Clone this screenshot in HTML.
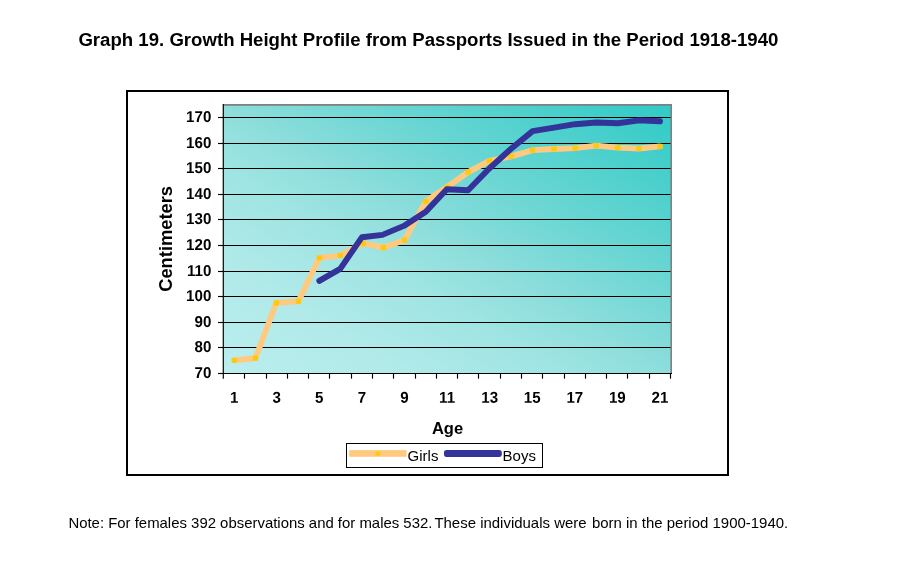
<!DOCTYPE html>
<html><head><meta charset="utf-8"><title>Graph 19</title>
<style>
html,body{margin:0;padding:0;background:#fff;}
body{width:899px;height:572px;overflow:hidden;position:relative;font-family:"Liberation Sans",Arial,sans-serif;}
svg{position:absolute;left:0;top:0;display:block}
svg text{font-family:"Liberation Sans",Arial,sans-serif;fill:#000}
</style></head><body>
<svg width="899" height="572" viewBox="0 0 899 572">
<defs>
<linearGradient id="bg" x1="0" y1="1" x2="1" y2="0">
<stop offset="0" stop-color="#bceeee"/><stop offset="0.087" stop-color="#b6ecec"/><stop offset="0.2" stop-color="#b1eae9"/><stop offset="0.368" stop-color="#a0e5e3"/><stop offset="0.4645" stop-color="#92e0de"/><stop offset="0.506" stop-color="#8bdddb"/><stop offset="0.6975" stop-color="#65d5d2"/><stop offset="0.9225" stop-color="#3ccdc9"/><stop offset="1" stop-color="#30cbc7"/>
</linearGradient>
</defs>
<rect x="0" y="0" width="899" height="572" fill="#fff"/>
<text x="78.4" y="46.2" font-size="18.67" font-weight="bold" textLength="700" lengthAdjust="spacingAndGlyphs">Graph 19. Growth Height Profile from Passports Issued in the Period 1918-1940</text>
<rect x="127" y="91" width="601" height="384" fill="#fff" stroke="#000" stroke-width="2"/>
<rect x="222.70000000000002" y="104.0" width="449.3" height="269.5" fill="url(#bg)"/>
<g stroke="#000" stroke-width="1"><line x1="223.30" y1="117.5" x2="671.20" y2="117.5"/><line x1="223.30" y1="143.5" x2="671.20" y2="143.5"/><line x1="223.30" y1="168.5" x2="671.20" y2="168.5"/><line x1="223.30" y1="194.5" x2="671.20" y2="194.5"/><line x1="223.30" y1="219.5" x2="671.20" y2="219.5"/><line x1="223.30" y1="245.5" x2="671.20" y2="245.5"/><line x1="223.30" y1="271.5" x2="671.20" y2="271.5"/><line x1="223.30" y1="296.5" x2="671.20" y2="296.5"/><line x1="223.30" y1="322.5" x2="671.20" y2="322.5"/><line x1="223.30" y1="347.5" x2="671.20" y2="347.5"/></g>
<rect x="223.3" y="104.0" width="448.7" height="1.8" fill="#808080"/>
<rect x="670.4" y="104.0" width="1.6" height="269.5" fill="#808080"/>
<g stroke="#000" stroke-width="1.15">
<line x1="218" y1="117.5" x2="223.30" y2="117.5"/><line x1="218" y1="143.5" x2="223.30" y2="143.5"/><line x1="218" y1="168.5" x2="223.30" y2="168.5"/><line x1="218" y1="194.5" x2="223.30" y2="194.5"/><line x1="218" y1="219.5" x2="223.30" y2="219.5"/><line x1="218" y1="245.5" x2="223.30" y2="245.5"/><line x1="218" y1="271.5" x2="223.30" y2="271.5"/><line x1="218" y1="296.5" x2="223.30" y2="296.5"/><line x1="218" y1="322.5" x2="223.30" y2="322.5"/><line x1="218" y1="347.5" x2="223.30" y2="347.5"/><line x1="218" y1="373.5" x2="223.30" y2="373.5"/>
<line x1="223.3" y1="104.0" x2="223.3" y2="374.0"/>
<line x1="222.70000000000002" y1="373.5" x2="672.0" y2="373.5"/>
<line x1="223.30" y1="373.50" x2="223.30" y2="378.7"/><line x1="244.50" y1="373.50" x2="244.50" y2="378.7"/><line x1="266.50" y1="373.50" x2="266.50" y2="378.7"/><line x1="287.50" y1="373.50" x2="287.50" y2="378.7"/><line x1="308.50" y1="373.50" x2="308.50" y2="378.7"/><line x1="329.50" y1="373.50" x2="329.50" y2="378.7"/><line x1="351.50" y1="373.50" x2="351.50" y2="378.7"/><line x1="372.50" y1="373.50" x2="372.50" y2="378.7"/><line x1="393.50" y1="373.50" x2="393.50" y2="378.7"/><line x1="415.50" y1="373.50" x2="415.50" y2="378.7"/><line x1="436.50" y1="373.50" x2="436.50" y2="378.7"/><line x1="457.50" y1="373.50" x2="457.50" y2="378.7"/><line x1="478.50" y1="373.50" x2="478.50" y2="378.7"/><line x1="500.50" y1="373.50" x2="500.50" y2="378.7"/><line x1="521.50" y1="373.50" x2="521.50" y2="378.7"/><line x1="542.50" y1="373.50" x2="542.50" y2="378.7"/><line x1="564.50" y1="373.50" x2="564.50" y2="378.7"/><line x1="585.50" y1="373.50" x2="585.50" y2="378.7"/><line x1="606.50" y1="373.50" x2="606.50" y2="378.7"/><line x1="627.50" y1="373.50" x2="627.50" y2="378.7"/><line x1="649.50" y1="373.50" x2="649.50" y2="378.7"/><line x1="670.50" y1="373.50" x2="670.50" y2="378.7"/>
</g>
<g font-size="15.5" font-weight="bold"><text transform="translate(211.3 121.95) rotate(0.03) scale(0.975 1.02)" text-anchor="end">170</text><text transform="translate(211.3 147.95) rotate(0.03) scale(0.975 1.02)" text-anchor="end">160</text><text transform="translate(211.3 172.95) rotate(0.03) scale(0.975 1.02)" text-anchor="end">150</text><text transform="translate(211.3 198.95) rotate(0.03) scale(0.975 1.02)" text-anchor="end">140</text><text transform="translate(211.3 223.95) rotate(0.03) scale(0.975 1.02)" text-anchor="end">130</text><text transform="translate(211.3 249.95) rotate(0.03) scale(0.975 1.02)" text-anchor="end">120</text><text transform="translate(211.3 275.95) rotate(0.03) scale(0.975 1.02)" text-anchor="end">110</text><text transform="translate(211.3 300.95) rotate(0.03) scale(0.975 1.02)" text-anchor="end">100</text><text transform="translate(211.3 326.95) rotate(0.03) scale(0.975 1.02)" text-anchor="end">90</text><text transform="translate(211.3 351.95) rotate(0.03) scale(0.975 1.02)" text-anchor="end">80</text><text transform="translate(211.3 377.95) rotate(0.03) scale(0.975 1.02)" text-anchor="end">70</text><text transform="translate(234.15 402.7) rotate(0.03) scale(0.975 1.02)" text-anchor="middle">1</text><text transform="translate(276.73 402.7) rotate(0.03) scale(0.975 1.02)" text-anchor="middle">3</text><text transform="translate(319.31 402.7) rotate(0.03) scale(0.975 1.02)" text-anchor="middle">5</text><text transform="translate(361.89 402.7) rotate(0.03) scale(0.975 1.02)" text-anchor="middle">7</text><text transform="translate(404.47 402.7) rotate(0.03) scale(0.975 1.02)" text-anchor="middle">9</text><text transform="translate(447.05 402.7) rotate(0.03) scale(0.975 1.02)" text-anchor="middle">11</text><text transform="translate(489.63 402.7) rotate(0.03) scale(0.975 1.02)" text-anchor="middle">13</text><text transform="translate(532.21 402.7) rotate(0.03) scale(0.975 1.02)" text-anchor="middle">15</text><text transform="translate(574.79 402.7) rotate(0.03) scale(0.975 1.02)" text-anchor="middle">17</text><text transform="translate(617.37 402.7) rotate(0.03) scale(0.975 1.02)" text-anchor="middle">19</text><text transform="translate(659.95 402.7) rotate(0.03) scale(0.975 1.02)" text-anchor="middle">21</text></g>
<text x="431.9" y="433.6" font-size="16.4" font-weight="bold" textLength="31.2" lengthAdjust="spacingAndGlyphs">Age</text>
<text transform="translate(171.6,238.9) rotate(-90)" font-size="17.6" font-weight="bold" text-anchor="middle" textLength="105.8" lengthAdjust="spacingAndGlyphs">Centimeters</text>
<polyline points="234.2,360.3 255.4,358.2 276.3,302.8 298.4,301.3 319.4,257.8 340.4,255.3 363.3,243.3 383.4,247.6 404.5,240.2 425.7,201.5 447.0,187.0 468.2,172.1 489.5,160.9 511.2,156.4 532.6,150.2 554.0,149.0 575.1,148.2 596.3,145.6 617.7,147.7 639.0,148.5 660.2,146.4" fill="none" stroke="#ffca80" stroke-width="5.8" stroke-linejoin="round" stroke-linecap="butt"/>
<g fill="#ffc810"><rect x="231.5" y="357.7" width="5.4" height="5.2" rx="0.8"/><rect x="252.7" y="355.6" width="5.4" height="5.2" rx="0.8"/><rect x="273.6" y="300.2" width="5.4" height="5.2" rx="0.8"/><rect x="295.7" y="298.7" width="5.4" height="5.2" rx="0.8"/><rect x="316.7" y="255.2" width="5.4" height="5.2" rx="0.8"/><rect x="337.7" y="252.7" width="5.4" height="5.2" rx="0.8"/><rect x="360.6" y="240.7" width="5.4" height="5.2" rx="0.8"/><rect x="380.7" y="245.0" width="5.4" height="5.2" rx="0.8"/><rect x="401.8" y="237.6" width="5.4" height="5.2" rx="0.8"/><rect x="423.0" y="198.9" width="5.4" height="5.2" rx="0.8"/><rect x="444.3" y="184.4" width="5.4" height="5.2" rx="0.8"/><rect x="465.5" y="169.5" width="5.4" height="5.2" rx="0.8"/><rect x="486.8" y="158.3" width="5.4" height="5.2" rx="0.8"/><rect x="508.5" y="153.8" width="5.4" height="5.2" rx="0.8"/><rect x="529.9" y="147.6" width="5.4" height="5.2" rx="0.8"/><rect x="551.3" y="146.4" width="5.4" height="5.2" rx="0.8"/><rect x="572.4" y="145.6" width="5.4" height="5.2" rx="0.8"/><rect x="593.6" y="143.0" width="5.4" height="5.2" rx="0.8"/><rect x="615.0" y="145.1" width="5.4" height="5.2" rx="0.8"/><rect x="636.3" y="145.9" width="5.4" height="5.2" rx="0.8"/><rect x="657.5" y="143.8" width="5.4" height="5.2" rx="0.8"/></g>
<polyline points="319.3,280.9 340.2,268.9 361.8,237.3 382.4,234.9 403.8,225.9 425.8,211.8 446.8,189.2 468.1,190.3 489.3,168.5 510.8,149.0 532.6,131.1 554.1,127.6 575.1,124.2 596.5,122.5 617.7,123.2 639.2,120.4 660.0,121.3" fill="none" stroke="#333399" stroke-width="5.9" stroke-linejoin="round" stroke-linecap="round"/>
<rect x="346.5" y="443.5" width="196" height="24" fill="#fff" stroke="#000" stroke-width="1"/>
<rect x="349.2" y="450.1" width="57.4" height="6.7" fill="#ffca80"/>
<rect x="375.4" y="451.2" width="5" height="4.6" rx="0.8" fill="#ffc810"/>
<rect x="444" y="450.1" width="57.8" height="6.8" rx="2.6" fill="#333399"/>
<text x="407.6" y="460.5" font-size="14.8" textLength="30.8" lengthAdjust="spacingAndGlyphs">Girls</text>
<text x="502.6" y="460.5" font-size="14.8" textLength="33.4" lengthAdjust="spacingAndGlyphs">Boys</text>
<g font-size="14.2"><text x="68.4" y="528" textLength="364" lengthAdjust="spacingAndGlyphs">Note: For females 392 observations and for males 532.</text>
<text x="434.4" y="528" textLength="152.2" lengthAdjust="spacingAndGlyphs">These individuals were</text>
<text x="591.9" y="528" textLength="196.3" lengthAdjust="spacingAndGlyphs">born in the period 1900-1940.</text></g>
</svg>
</body></html>
